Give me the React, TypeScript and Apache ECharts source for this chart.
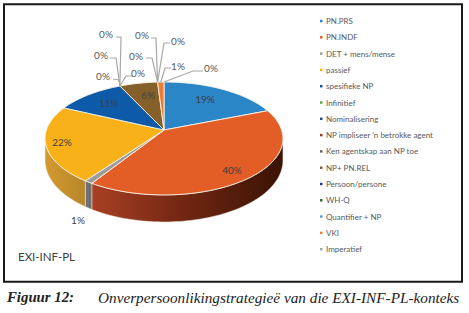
import React, { useEffect, useRef } from "react";
import * as echarts from "echarts";

const categories = ["PN.PRS","PN.INDF","DET + mens/mense","passief","spesifieke NP","Infinitief","Nominalisering","NP impliseer 'n betrokke agent","Ken agentskap aan NP toe","NP+ PN.REL","Persoon/persone","WH-Q","Quantifier + NP","VKI","Imperatief"];
const shares = [19,40,1,22,11,0,0,0,0,6,0,0,0,1,0];
const colors = ["#2a86c6","#e35d27","#9b9d9d","#f8b118","#0c5aa8","#5ea84b","#1f4e79","#9c3a1c","#636363","#86602b","#26377e","#2f6b34","#5b9bd5","#ed7d31","#a5a5a5"];
const sideColors: (string[]|null)[] = [null,["#a83f24","#6f2611","#3a1204"],["#6d7172","#6d7172"],["#d39a2e","#b8862b"],null,null,null,null,null,null,null,null,null,null,null];

// layout of the pie (perspective-flattened disc)
const CX = 164, CY = 130, AX = 117.6, AY = 55.2, K = 0.15;
// label centres and leader elbows, index aligned with categories
const labelLayout: (null|{x:number,y:number,e?:[number,number][]})[] = [
  {x:205,y:99},{x:232,y:170},{x:78,y:220},{x:62,y:142},{x:109,y:103},
  {x:106,y:34,e:[[116,37],[121,37]]},{x:101,y:55,e:[[110,58],[116,58]]},{x:103,y:76,e:[[113,79],[119,80]]},{x:138,y:73,e:[[133,76],[126,76]]},
  {x:148,y:95},
  {x:142,y:35,e:[[151,38],[156,38]]},{x:136,y:56,e:[[146,58],[152,58]]},{x:178,y:41,e:[[170,43],[164,43]]},{x:178,y:66,e:[[171,68],[165,68]]},{x:211,y:68,e:[[203,71],[193,71]]},
];

const total = shares.reduce((a,b)=>a+b,0);
const proj = (deg:number,scale=1):[number,number]=>{
  const t=deg*Math.PI/180,u=Math.sin(t)*scale,v=-Math.cos(t)*scale,w=1-K*v;
  return [CX+AX*u/w,CY+AY*v/w];
};
const depth=(deg:number)=>21+6*Math.max(0,-Math.cos(deg*Math.PI/180));
const arcPts=(a:number,b:number)=>{
  const out:[number,number][]=[];const n=Math.max(2,Math.ceil((b-a)/1.5));
  for(let i=0;i<=n;i++) out.push(proj(a+(b-a)*i/n));
  return out;
};

function makeRender(idx:number){
  const start=shares.slice(0,idx).reduce((a,b)=>a+b,0)/total*360;
  return (_:any,api:any)=>{
    const value=api.value(0) as number;
    const end=start+value/total*360;
    const mid=(start+end)/2;
    const children:any[]=[];
    if(value>0){
      const a=Math.max(start,98.6),b=Math.min(end,261.4);
      if(a<b&&sideColors[idx]){
        const n=Math.max(2,Math.ceil((b-a)/1.5));
        const top:[number,number][]=[],bot:[number,number][]=[];
        for(let i=0;i<=n;i++){const d=a+(b-a)*i/n;const p=proj(d);top.push(p);bot.push([p[0],p[1]+depth(d)]);}
        const sc=sideColors[idx]!;
        children.push({type:"polygon",z2:1,shape:{points:[...top,...bot.reverse()]},style:{fill:new echarts.graphic.LinearGradient(0,0,1,0,sc.map((c,i)=>({offset:i/(sc.length-1),color:c}))),stroke:"#efe6dc",lineWidth:0.5}});
      }
      children.push({type:"polygon",z2:2,shape:{points:[[CX,CY],...arcPts(start,end)]},style:{fill:colors[idx],stroke:"#fbf3e6",lineWidth:0.9}});
    }
    const l=labelLayout[idx];
    if(l){
      if(l.e){
        children.push({type:"polyline",z2:3,shape:{points:[...l.e,proj(mid)]},style:{fill:"none",stroke:"#a8a8a8",lineWidth:1.2}});
      }
      children.push({type:"text",z2:4,x:l.x,y:l.y,style:{text:Math.round(value)+"%",fill:l.e?"#595959":"#404040",font:"10px Lato",align:"center",verticalAlign:"middle"}});
    }
    return {type:"group",children};
  };
}

export default function App(){
  const ref=useRef<HTMLDivElement>(null);
  useEffect(()=>{
    document.body.style.margin="0";
    document.body.style.background="#fff";
    const chart=echarts.init(ref.current!,undefined,{renderer:"svg"});
    chart.setOption({
      animation:false,
      backgroundColor:"#fff",
      legend:{
        orient:"vertical",left:320,top:16,padding:0,itemWidth:2.5,itemHeight:2.5,itemGap:6.3,icon:"rect",
        selectedMode:false,
        data:categories,
        textStyle:{fontFamily:"Lato",fontSize:8,color:"#595959",padding:[0,0,0,-1.5],lineHeight:10},
      },
      graphic:[
        {type:"rect",z:0,shape:{x:4,y:4.2,width:458,height:277.5},style:{fill:"none",stroke:"#1a1a1a",lineWidth:2}},
        {type:"text",x:18,y:250,style:{text:"EXI-INF-PL",fill:"#404040",font:"11.5px Lato"}},
        {type:"text",x:7,y:289.5,style:{text:"Figuur 12:",fill:"#222",font:"italic bold 14.8px 'Liberation Serif'"}},
        {type:"text",x:98,y:289.5,style:{text:"Onverpersoonlikingstrategieë van die EXI-INF-PL-konteks",fill:"#222",font:"italic 15.25px 'Liberation Serif'"}},
      ],
      series:categories.map((name,i)=>({
        type:"custom",name,coordinateSystem:"none",silent:true,
        itemStyle:{color:colors[i]},
        data:[[shares[i]]],
        renderItem:makeRender(i),
      })),
    });
    return ()=>chart.dispose();
  },[]);
  return <div ref={ref} style={{width:469,height:313}}/>;
}
